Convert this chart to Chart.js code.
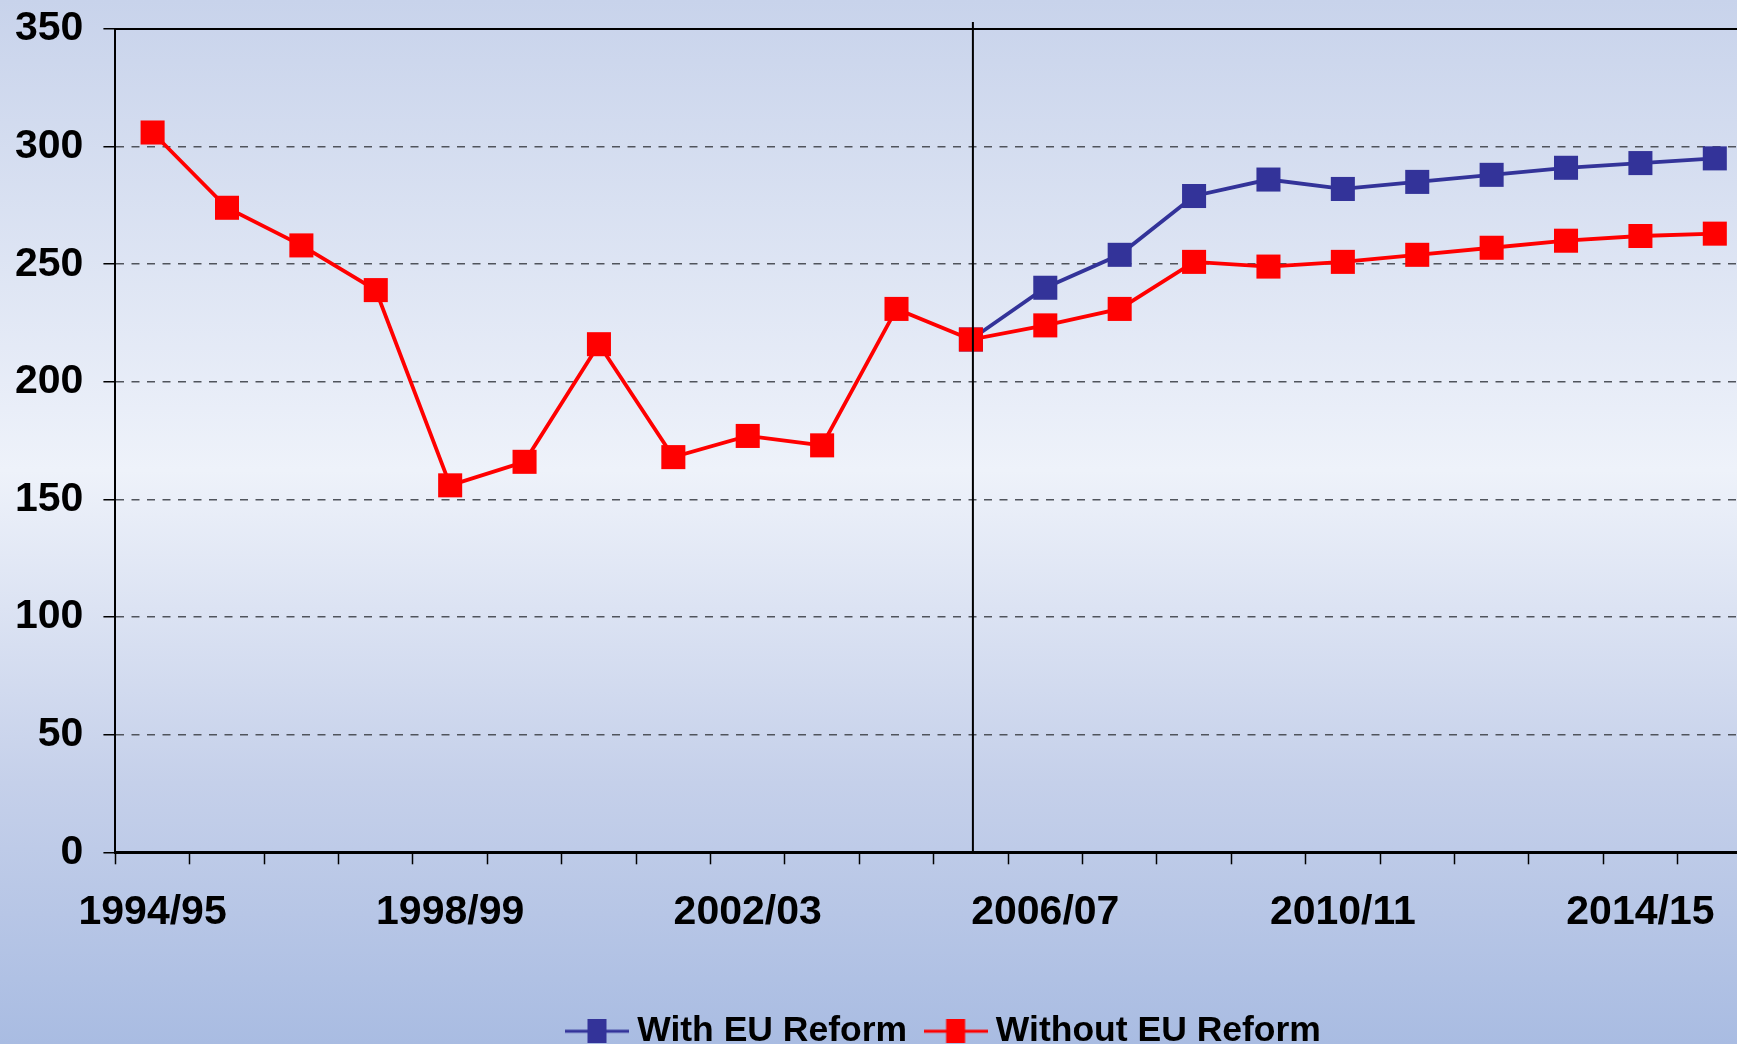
<!DOCTYPE html>
<html>
<head>
<meta charset="utf-8">
<script src="https://cdn.jsdelivr.net/npm/chart.js@4/dist/chart.umd.min.js"></script>
<style>
  html, body { margin: 0; padding: 0; width: 100%; height: 100%; overflow: hidden; }
  body { background: linear-gradient(to bottom, #c8d3eb 0%, #eef2fa 45%, #c5d0ea 75%, #a9bce2 100%); }
  #wrap { position: absolute; left: -20px; top: 0; width: 1780px; height: 1059px; }
</style>
</head>
<body>
<div id="wrap"><canvas id="c"></canvas></div>
<script>
const categories = ['1994/95','1995/96','1996/97','1997/98','1998/99','1999/00','2000/01','2001/02','2002/03','2003/04','2004/05','2005/06','2006/07','2007/08','2008/09','2009/10','2010/11','2011/12','2012/13','2013/14','2014/15','2015/16'];
const withReform = [null,null,null,null,null,null,null,null,null,null,null,218,240,254,279,286,282,285,288,291,293,295];
const withoutReform = [306,274,258,239,156,166,216,168,177,173,231,218,224,231,251,249,251,254,257,260,262,263];
const shownTickLabels = ['1994/95','1998/99','2002/03','2006/07','2010/11','2014/15'];
const yTickValues = [0,50,100,150,200,250,300,350];
const dividerCategory = '2005/06';
const seriesNames = ['Without EU Reform','With EU Reform'];

const FONT = "'Liberation Sans', Arial, Helvetica, sans-serif";
const RED = '#ff0000', BLUE = '#333399';

function makeMarker(color) {
  const c = document.createElement('canvas');
  c.width = 64; c.height = 24;
  const g = c.getContext('2d');
  g.fillStyle = color;
  g.fillRect(0, 10.5, 64, 3);
  g.fillRect(22.5, 0, 19, 24);
  return c;
}
const markers = [makeMarker(RED), makeMarker(BLUE)];

const overlay = {
  id: 'overlay',
  afterLayout(chart) {
    if (chart.legend) { chart.legend.left += 14; chart.legend.right += 14; }
  },
  afterDatasetsDraw(chart) {
    const {ctx, chartArea, scales} = chart;
    const x = scales.x.getPixelForValue(categories.indexOf(dividerCategory)) + 2;
    ctx.save();
    ctx.strokeStyle = '#000';
    ctx.lineWidth = 2;
    ctx.beginPath();
    ctx.moveTo(x, chartArea.top - 7);
    ctx.lineTo(x, chartArea.bottom);
    ctx.stroke();
    const yTop = scales.y.getPixelForValue(yTickValues[yTickValues.length - 1]);
    ctx.beginPath();
    ctx.moveTo(chartArea.left, yTop);
    ctx.lineTo(chartArea.right + 20, yTop);
    ctx.stroke();
    ctx.restore();
  }
};

new Chart(document.getElementById('c'), {
  type: 'line',
  data: {
    labels: categories,
    datasets: [
      { label: seriesNames[0], data: withoutReform, borderColor: RED, backgroundColor: RED,
        borderWidth: 3.8, pointStyle: 'rect', pointRadius: 17, pointBorderWidth: 0, tension: 0, clip: false },
      { label: seriesNames[1], data: withReform, borderColor: BLUE, backgroundColor: BLUE,
        borderWidth: 3.8, pointStyle: 'rect', pointRadius: 17, pointBorderWidth: 0, tension: 0, clip: false }
    ]
  },
  options: {
    responsive: true,
    maintainAspectRatio: false,
    animation: false,
    events: [],
    layout: { autoPadding: false, padding: { left: 15, right: 8, top: 29, bottom: 0 } },
    scales: {
      x: {
        offset: true,
        grid: { offset: true, drawOnChartArea: false, drawTicks: true, tickLength: 12, tickColor: '#000', tickWidth: 1.5 },
        border: { display: true, color: '#000', width: 3 },
        ticks: {
          autoSkip: false, maxRotation: 0, minRotation: 0, padding: 24, color: '#000',
          font: { family: FONT, size: 41, weight: 'bold' },
          callback: function(value) {
            const l = this.getLabelForValue(value);
            return shownTickLabels.includes(l) ? l : '';
          }
        },
        afterFit: function(scale) { scale.height += 26; }
      },
      y: {
        min: yTickValues[0],
        max: yTickValues[yTickValues.length - 1],
        afterBuildTicks: function(scale) { scale.ticks = yTickValues.map(v => ({ value: v })); },
        afterFit: function(scale) { scale.paddingTop = 0; scale.paddingBottom = 0; },
        grid: { color: '#50545c', lineWidth: 1.5, tickLength: 12, tickColor: '#000', tickWidth: 1.5 },
        border: { display: true, color: '#000', width: 2, dash: [8, 7.5] },
        ticks: { padding: 20, color: '#000', font: { family: FONT, size: 41, weight: 'bold' } }
      }
    },
    plugins: {
      tooltip: { enabled: false },
      legend: {
        position: 'bottom',
        fullSize: false,
        labels: {
          usePointStyle: true,
          pointStyleWidth: 45,
          boxHeight: 24,
          padding: 26,
          color: '#000',
          font: { family: FONT, size: 35.5, weight: 'bold' },
          generateLabels: function(chart) {
            const items = Chart.defaults.plugins.legend.labels.generateLabels(chart);
            items.forEach(it => { it.pointStyle = markers[it.datasetIndex]; });
            return items;
          },
          sort: (a, b) => b.datasetIndex - a.datasetIndex
        }
      }
    }
  },
  plugins: [overlay]
});
</script>
</body>
</html>
